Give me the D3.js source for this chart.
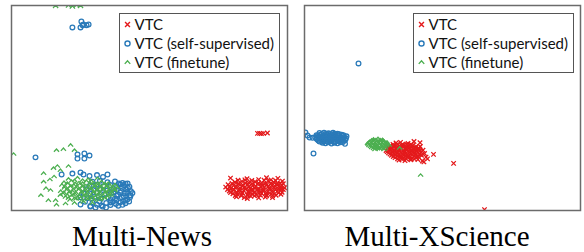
<!DOCTYPE html>
<html>
<head>
<meta charset="utf-8">
<script src="https://cdn.jsdelivr.net/npm/d3@7.9.0/dist/d3.min.js"></script>
<style>
  body { margin: 0; background: #fff; }
  svg { display: block; }
</style>
</head>
<body>
<svg id="chart" width="584" height="252"></svg>
<script>
// t-SNE style coordinates (x: 0..92, y: 0..68)
const seriesNames = ['VTC', 'VTC (self-supervised)', 'VTC (finetune)'];
const panelTitles = ['Multi-News', 'Multi-XScience'];

const newsRed = [
  [73,10.8],[78.5,10.6],[85,10.9],[88.8,10.7],[90.3,9.8],
  [74.5,9.4],[76.8,9.7],[79,9.3],[81.2,9.6],[83.4,9.2],[85.6,9.8],[87.4,9.4],[89.6,9.1],
  [72.2,8.6],[74,8.3],[75.6,8.8],[77.2,8.4],[78.8,8.7],[80.4,8.2],[82,8.8],[83.6,8.4],[85.2,8.7],[86.8,8.3],[88.4,8.6],[90,8.2],[91,7.6],
  [71.4,7.8],[73,7.3],[74.6,7.7],[76.2,7.4],[77.8,7.8],[79.4,7.3],[81,7.6],[82.6,7.2],[84.2,7.7],[85.8,7.4],[87.4,7.8],[89,7.3],[90.6,7.0],
  [72.6,6.5],[74.2,6.8],[75.8,6.3],[77.4,6.7],[79,6.4],[80.6,6.8],[82.2,6.3],[83.8,6.6],[85.4,6.2],[87,6.7],[88.6,6.4],[90.2,6.1],
  [73.8,5.6],[75.4,5.3],[77,5.7],[78.6,5.2],[80.2,5.6],[81.8,5.3],[83.4,5.7],[85,5.2],[86.6,5.5],[88.2,5.1],[89.8,5.4],
  [75,4.6],[77.6,4.3],[79.8,4.7],[82.4,4.2],[84.6,4.5],[87,4.3],[78.6,4.0],
  [75.5,10.1],[77.8,10.2],[80.1,10.0],[82.4,10.3],[84.2,10.1],[86.5,10.2],[88,10.0],
  [73.5,9.0],[75.8,8.9],[78,9.1],[80.2,8.9],[82.4,9.1],[84.6,8.9],[86.5,9.1],[88.6,8.9],[90.6,8.9],
  [72.8,8.0],[75,7.9],[77,8.1],[79.2,7.9],[81.4,8.1],[83.2,7.9],[85.6,8.0],[87.8,8.1],[89.6,7.9],
  [72,7.0],[74,7.1],[76,6.9],[78,7.1],[80,6.9],[82,7.1],[84,6.9],[86,7.1],[88,6.9],[89.8,7.1],
  [73,6.0],[75,6.1],[77,5.9],[79,6.1],[81,5.9],[83,6.1],[85,5.9],[87,6.1],[89,5.9],
  [74.6,5.0],[76.6,4.9],[78.8,5.0],[81,4.9],[83,5.1],[85,4.9],[87,5.0],
  [82,25.7],[82.7,25.7],[83.3,25.6],[84,25.7],[85.3,25.8]
];

const newsBlue = [
  [20.3,61],[23,61],[23.3,63],[24,62],[25,61.7],[25.7,62],[23.7,61.7],
  [8,17.7],[22,18.7],[22,17.3],[24.3,19],[24.3,17.3],[26,18.3],
  [16.7,12],[20.3,12.3],[23,12.7],[24,12],[26,11.5],[28.5,11.8],[30.5,11.2],[32,12],
  [36.3,8.7],[38.7,9],[38,3.3],[39.7,5],
  [30,1.7],[26.3,1.3],[23,2],[33,2.7],
  [27,9.6],[29.5,9.9],[32,9.4],[34.5,9.7],[37,9.2],
  [26,8.2],[28.3,8.6],[30.6,8.1],[32.9,8.5],[35.2,8.0],[37.5,8.4],[39.3,7.9],
  [25,7.1],[27.3,6.8],[29.6,7.2],[31.9,6.7],[34.2,7.1],[36.5,6.6],[38.3,7.0],[39.8,6.4],
  [24,5.8],[26.3,5.5],[28.6,5.9],[30.9,5.4],[33.2,5.8],[35.5,5.3],[37.8,5.7],[39.5,5.1],
  [23,4.4],[25.3,4.1],[27.6,4.5],[29.9,4.0],[32.2,4.4],[34.5,3.9],[36.8,4.3],[38.6,3.7],
  [24.5,2.9],[27,2.6],[29.3,3.1],[31.6,2.5],[33.9,3.0],[36.2,2.7],[38,2.4],
  [26.3,1.5],[28.5,1.9],[30.4,1.3],[33,1.8],[35.6,1.6],
  [35.8,9.0],[38,8.9],[36.8,7.6],[38.8,7.5],[34,6.1],[36.2,6.0],[38.6,6.2],[40.3,5.8],
  [35,4.9],[37.4,4.8],[39.5,4.4],[33,3.5],[35,3.4],[37.2,3.2],[39.2,3.0],[34.8,2.2],[37,1.9],[31.5,1.0],[28,1.0]
];

const newsGreen = [
  [14.7,67.9],[19,68],[20.3,67.7],[21.7,68.1],[23,67.9],
  [0.7,18.7],[15,20],[17.3,20.3],[19.7,21.7],[21,20],
  [10.7,12.3],[14,14],[15.3,14.7],[16.3,13.3],[19,14.7],
  [13,6.7],[12.3,3.3],[14.7,3.3],[16.3,5],
  [10.7,9.5],[11.5,7.3],[12.8,10.2],[14.2,11.2],[9.8,5.0],[15,1.8],[18,2.2],
  [19,10.4],[22,10.8],[25.5,10.3],[28.7,10.6],
  [17.5,9.3],[20,9.7],[22.5,9.2],[25,9.6],[27.5,9.1],[30,9.5],[32.3,9.0],
  [16.8,8.4],[18.8,8.7],[20.8,8.3],[22.8,8.6],[24.8,8.2],[26.8,8.7],[28.8,8.3],[30.8,8.6],[32.8,8.2],[34.5,8.5],
  [17.6,7.4],[19.6,7.7],[21.6,7.3],[23.6,7.6],[25.6,7.2],[27.6,7.7],[29.6,7.3],[31.6,7.6],[33.6,7.2],[35.3,7.5],
  [16.4,6.3],[18.4,6.6],[20.4,6.2],[22.4,6.7],[24.4,6.4],[26.4,6.8],[28.4,6.3],[30.4,6.6],[32.4,6.2],[34.4,6.5],
  [17.2,5.4],[19.2,5.7],[21.2,5.3],[23.2,5.6],[25.2,5.2],[27.2,5.7],[29.2,5.3],[31.2,5.6],[33.2,5.1],
  [18,4.4],[20,4.7],[22,4.3],[24,4.6],[26,4.2],[28,4.5],[30,4.1],[32,4.4],
  [19.5,3.4],[21.5,3.7],[23.5,3.2],[25.5,3.6],[27.5,3.3],[29.5,3.5],
  [21,2.4],[24,2.7],[27,2.3],
  [21,9.9],[23.7,10.0],[26.5,9.8],
  [18.6,9.0],[21.2,8.9],[23.7,9.0],[26.2,8.9],[28.7,9.0],[31.2,8.8],
  [17.8,7.9],[19.8,8.1],[21.8,7.9],[23.8,8.1],[25.8,7.9],[27.8,8.1],[29.8,7.9],[31.8,8.0],[33.8,7.9],
  [18.6,7.0],[20.6,6.9],[22.6,7.1],[24.6,6.9],[26.6,7.1],[28.6,6.9],[30.6,7.1],[32.6,6.9],[34.4,7.0],
  [17.4,5.9],[19.4,6.1],[21.4,5.9],[23.4,6.1],[25.4,5.9],[27.4,6.1],[29.4,5.9],[31.4,6.1],[33.4,5.9],
  [18.6,5.0],[20.6,5.1],[22.6,4.9],[24.6,5.1],[26.6,4.9],[28.6,5.1],[30.6,4.9],[32.5,5.0],
  [19,4.0],[21,3.9],[23,4.1],[25,3.9],[27,4.1],[29,3.9],[31,4.0]
];

const sciRed = [
  [30.5,22.5],[32,22.7],[34.5,22.3],[36.5,23.0],[38.5,22.6],
  [28.5,21.5],[30,21.7],[31.5,21.4],[33,21.8],[34.5,21.5],[36,21.7],[37.2,21.3],
  [27.5,20.8],[29,20.9],[30.5,20.7],[32,21],[33.5,20.7],[35,20.9],[36.5,20.6],[38,20.8],
  [27.2,20],[28.6,20.2],[30,19.9],[31.4,20.1],[32.8,19.8],[34.2,20.2],[35.6,19.9],[37,20.1],[38.4,19.8],
  [28,19.2],[29.4,19.4],[30.8,19.1],[32.2,19.3],[33.6,19],[35,19.3],[36.4,19.1],[37.8,19.3],
  [29,18.4],[30.4,18.6],[31.8,18.3],[33.2,18.5],[34.6,18.3],[36,18.6],[37.4,18.2],[39,18.4],
  [30.2,17.6],[31.6,17.8],[33,17.5],[34.4,17.7],[35.8,17.4],[37.2,17.6],
  [31.5,16.8],[33.5,16.6],[35.5,16.9],[39.3,16.5],
  [29.5,22.0],[31,22.1],[32.6,22.0],[34,22.1],[35.5,22.0],
  [28,21.1],[29.6,21.2],[31,21.1],[32.6,21.3],[34,21.1],[35.5,21.2],[37,21.0],[38.6,21.3],
  [27.8,20.4],[29.3,20.5],[30.8,20.4],[32.3,20.5],[33.8,20.4],[35.3,20.5],[36.8,20.3],[38.2,20.4],[39.5,20.1],
  [27.6,19.6],[29,19.7],[30.4,19.6],[31.8,19.7],[33.2,19.5],[34.6,19.7],[36,19.5],[37.4,19.7],[38.8,19.5],
  [28.5,18.8],[30,18.9],[31.4,18.8],[32.8,18.9],[34.2,18.7],[35.6,18.9],[37,18.8],[38.4,18.7],
  [29.6,18.0],[31,18.1],[32.4,17.9],[33.8,18.1],[35.2,17.9],[36.6,18.1],[38,18.0],
  [31,17.2],[32.4,17.1],[33.8,17.3],[35.2,17.1],[36.6,17.2],[37.8,17.0],
  [40.5,17.8],[41,17.2],[40,19],[39.8,16.2],
  [43,18.7],[49.7,15.7],[60,0.3]
];

const sciBlue = [
  [18,49],[0.3,26],[1.7,24.3],[3,19],[1,25],[2.7,24.2],
  [5,25.8],[6.5,25.9],[8,25.7],[9.5,25.9],[11,25.6],
  [4,25.1],[5.2,25.2],[6.4,25],[7.6,25.3],[8.8,25.1],[10,25.2],[11.2,25],[12.4,25.2],
  [3.6,24.4],[4.8,24.5],[6,24.3],[7.2,24.6],[8.4,24.4],[9.6,24.5],[10.8,24.3],[12,24.5],[13.2,24.4],
  [4.2,23.7],[5.4,23.8],[6.6,23.6],[7.8,23.9],[9,23.7],[10.2,23.8],[11.4,23.6],[12.6,23.8],[13.6,23.6],
  [5,23],[6.3,23.1],[7.6,22.9],[8.9,23.1],[10.2,22.9],[11.5,23.1],[12.8,22.8],
  [7,22.4],[9,22.3],[11,22.4],[13.5,22.2],
  [5.8,25.5],[7.2,25.6],[8.6,25.5],[10,25.6],[11.6,25.4],[13,25.1],
  [4.4,24.8],[5.8,24.7],[7.2,24.9],[8.6,24.7],[10,24.9],[11.4,24.7],[12.8,24.8],[14,24.7],
  [4,24.0],[5.4,24.1],[6.8,23.9],[8.2,24.1],[9.6,23.9],[11,24.1],[12.4,23.9],[13.8,24.1],
  [4.6,23.3],[6,23.4],[7.4,23.2],[8.8,23.4],[10.2,23.2],[11.6,23.4],[13,23.2],
  [6,22.6],[8,22.7],[10,22.6],[12,22.7]
];

const sciGreen = [
  [23,23.7],[24.5,23.9],[26,23.6],
  [21.8,23],[23,23.2],[24.2,22.9],[25.4,23.2],[26.6,22.9],
  [21,22.3],[22.2,22.4],[23.4,22.2],[24.6,22.5],[25.8,22.3],[27,22.4],[27.7,22.1],
  [21.5,21.6],[22.7,21.7],[23.9,21.5],[25.1,21.8],[26.3,21.6],[27.4,21.5],
  [22.4,20.9],[23.6,21],[24.8,20.8],[26,21],[27,20.7],
  [23.5,20.2],[25,20.4],[26.5,20.2],
  [22.4,23.4],[23.8,23.5],[25.2,23.5],[26.2,23.3],
  [21.5,22.7],[22.8,22.7],[24,22.6],[25.2,22.8],[26.4,22.6],[27.5,22.7],
  [21.2,22.0],[22.4,21.9],[23.6,21.8],[24.8,22.0],[26,21.9],[27.2,21.9],[28.2,21.7],
  [22,21.3],[23.2,21.3],[24.4,21.2],[25.6,21.3],[26.8,21.2],
  [23,20.6],[24.3,20.5],[25.6,20.6],
  [38.7,11.7],[31.7,20.7]
];

const colors = ['#e41a1c', '#2a7ab9', '#4caf50'];

const svg = d3.select('#chart');

// custom marker shapes
const crossMark = { draw(ctx, size) { const r = Math.sqrt(size) / 2;
  ctx.moveTo(-r, -r); ctx.lineTo(r, r); ctx.moveTo(r, -r); ctx.lineTo(-r, r); } };
const caretMark = { draw(ctx, size) { const r = Math.sqrt(size) / 2;
  ctx.moveTo(-r, r * 0.5); ctx.lineTo(0, -r * 0.6); ctx.lineTo(r, r * 0.5); } };
const circleMark = { draw(ctx, size) { const r = Math.sqrt(size) / 2;
  ctx.moveTo(r, 0); ctx.arc(0, 0, r, 0, 2 * Math.PI); } };
const marks = [crossMark, circleMark, caretMark];
const markSize = [20, 22, 26];

const panels = [
  { left: 11.5, title: panelTitles[0], cx: 142, series: [newsRed, newsBlue, newsGreen], legendX: 108 },
  { left: 304.5, title: panelTitles[1], cx: 437, series: [sciRed, sciBlue, sciGreen], legendX: 109 }
];

const pw = 276, ph = 205, panelTop = 5.5;

panels.forEach((p, pi) => {
  const g = svg.append('g').attr('transform', `translate(${p.left},${panelTop})`);
  const x = d3.scaleLinear().domain([0, 92]).range([0, pw]);
  const y = d3.scaleLinear().domain([0, 68.3]).range([ph, 0]);

  g.append('clipPath').attr('id', 'clip' + pi)
    .append('rect').attr('width', pw).attr('height', ph);

  const plot = g.append('g').attr('clip-path', `url(#clip${pi})`);

  [1, 0, 2].forEach((si) => {
    plot.append('g')
      .selectAll('path')
      .data(p.series[si])
      .join('path')
      .attr('transform', (d) => `translate(${x(d[0])},${y(d[1])})`)
      .attr('d', d3.symbol(marks[si], markSize[si]))
      .attr('fill', 'none')
      .attr('stroke', colors[si])
      .attr('stroke-width', 1.3);
  });

  g.append('rect')
    .attr('width', pw).attr('height', ph)
    .attr('fill', 'none').attr('stroke', '#6b6b6b').attr('stroke-width', 1.5);

  // legend
  const lg = g.append('g').attr('transform', `translate(${p.legendX},8)`);
  lg.append('rect').attr('width', 160).attr('height', 59)
    .attr('fill', '#fff').attr('stroke', '#555').attr('stroke-width', 1);
  seriesNames.forEach((name, i) => {
    const row = lg.append('g').attr('transform', `translate(0,${11 + i * 19})`);
    row.append('path')
      .attr('transform', 'translate(8,0)')
      .attr('d', d3.symbol(marks[i], markSize[i] + 4))
      .attr('fill', 'none').attr('stroke', colors[i]).attr('stroke-width', 1.4);
    row.append('text')
      .attr('x', 15).attr('y', 5)
      .attr('font-family', 'Lato, "Open Sans", sans-serif')
      .attr('font-size', 15)
      .attr('fill', '#111')
      .text(name);
  });

  svg.append('text')
    .attr('x', p.cx).attr('y', 246)
    .attr('text-anchor', 'middle')
    .attr('font-family', '"Liberation Serif", "Times New Roman", serif')
    .attr('font-size', 29)
    .attr('fill', '#000')
    .text(p.title);
});
</script>
</body>
</html>
